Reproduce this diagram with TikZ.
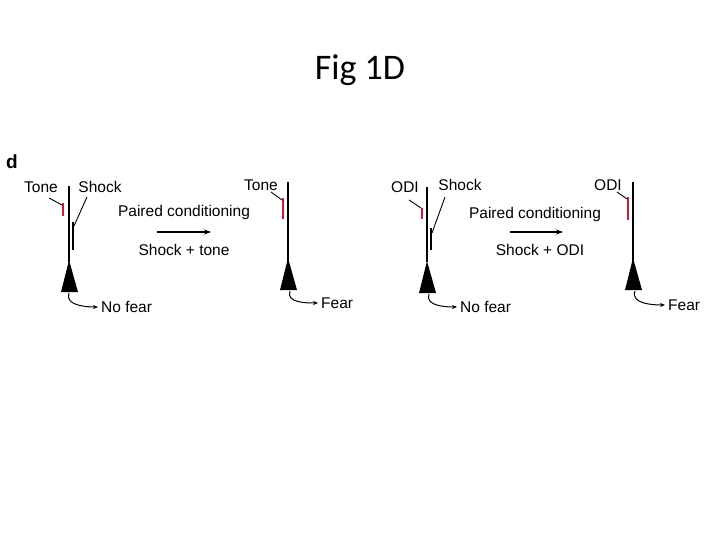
\documentclass[tikz,border=0pt]{standalone}
\usepackage{fontspec}
\setmainfont{Liberation Sans}
\newfontfamily\titlefont{Carlito}
\usetikzlibrary{arrows.meta}
\definecolor{tonered}{RGB}{200,30,60}
\begin{document}
\begin{tikzpicture}[x=1pt,y=-1pt,
  lbl/.style={font=\fontsize{15.5}{17}\selectfont,inner sep=0pt},
  axon/.style={line width=1.3pt},
  syn/.style={tonered,line width=2pt},
  tick/.style={line width=0.9pt},
  soma/.style={fill=black},
  outarr/.style={line width=1pt,shorten >=3pt,-{Stealth[length=5pt,width=4pt]}},
  conv/.style={line width=1pt,-{Stealth[length=7pt,width=5pt]}}]
\useasboundingbox (0,0) rectangle (720,540);
\node[font=\titlefont\fontsize{36}{40}\selectfont] (title) at (360,70) {Fig 1D};
\node[font=\bfseries\fontsize{19}{20}\selectfont,inner sep=0pt] (d) at (12,162) {d};
% ---------- panel 1 left
\draw[axon] (69,186) -- (69,262);
\fill[soma] (69,260) -- (61,292) -- (78,292) -- cycle;
\draw[syn] (63,203) -- (63,216);
\draw[tick] (49,198) -- (62,205);
\draw[tick] (87,197) -- (74,226);
\draw[axon] (73,222) -- (73,250);
\node[lbl] (t1) at (41,187) {Tone};
\node[lbl] (s1) at (100,187) {Shock};
\coordinate (o1) at (69,293);
\node[lbl,anchor=west] (nf1) at (101,307) {No fear};
\draw[outarr] (o1) to[out=-110,in=180] (nf1.west);
% arrow
\node[lbl] (pc1) at (184,212) {Paired conditioning};
\coordinate (a1s) at (157,232); \coordinate (a1e) at (211,232);
\draw[conv] (a1s) -- (a1e);
\node[lbl] (st1) at (184,250) {Shock + tone};
% panel 1 right
\draw[axon] (288,182) -- (288,262);
\fill[soma] (288,258) -- (280,290) -- (297,290) -- cycle;
\draw[syn] (283,198) -- (283,219);
\draw[tick] (271,192) -- (282,200);
\node[lbl] (t2) at (261,185) {Tone};
\coordinate (o2) at (290,291);
\node[lbl,anchor=west] (f2) at (321,303) {Fear};
\draw[outarr] (o2) to[out=-110,in=180] (f2.west);
% ---------- panel 2 left
\draw[axon] (427,187) -- (427,262);
\fill[soma] (427,261) -- (419,293) -- (436,293) -- cycle;
\draw[syn] (422,208) -- (422,219);
\draw[tick] (409,200) -- (421,208);
\draw[tick] (445,197) -- (432,233);
\draw[axon] (431,228) -- (431,250);
\node[lbl] (o3l) at (405,187) {ODI};
\node[lbl] (s3) at (460,185) {Shock};
\coordinate (o3) at (429,294);
\node[lbl,anchor=west] (nf3) at (460,307) {No fear};
\draw[outarr] (o3) to[out=-110,in=180] (nf3.west);
\node[lbl] (pc2) at (535,214) {Paired conditioning};
\coordinate (a2s) at (510,232); \coordinate (a2e) at (563,232);
\draw[conv] (a2s) -- (a2e);
\node[lbl] (st2) at (540,250) {Shock + ODI};
% panel 2 right
\draw[axon] (633,182) -- (633,262);
\fill[soma] (633,258) -- (625,290) -- (642,290) -- cycle;
\draw[syn] (628,197) -- (628,220);
\draw[tick] (617,192) -- (627,199);
\node[lbl] (o4l) at (608,185) {ODI};
\coordinate (o4) at (635,291);
\node[lbl,anchor=west] (f4) at (668,305) {Fear};
\draw[outarr] (o4) to[out=-110,in=180] (f4.west);
\end{tikzpicture}
\end{document}
